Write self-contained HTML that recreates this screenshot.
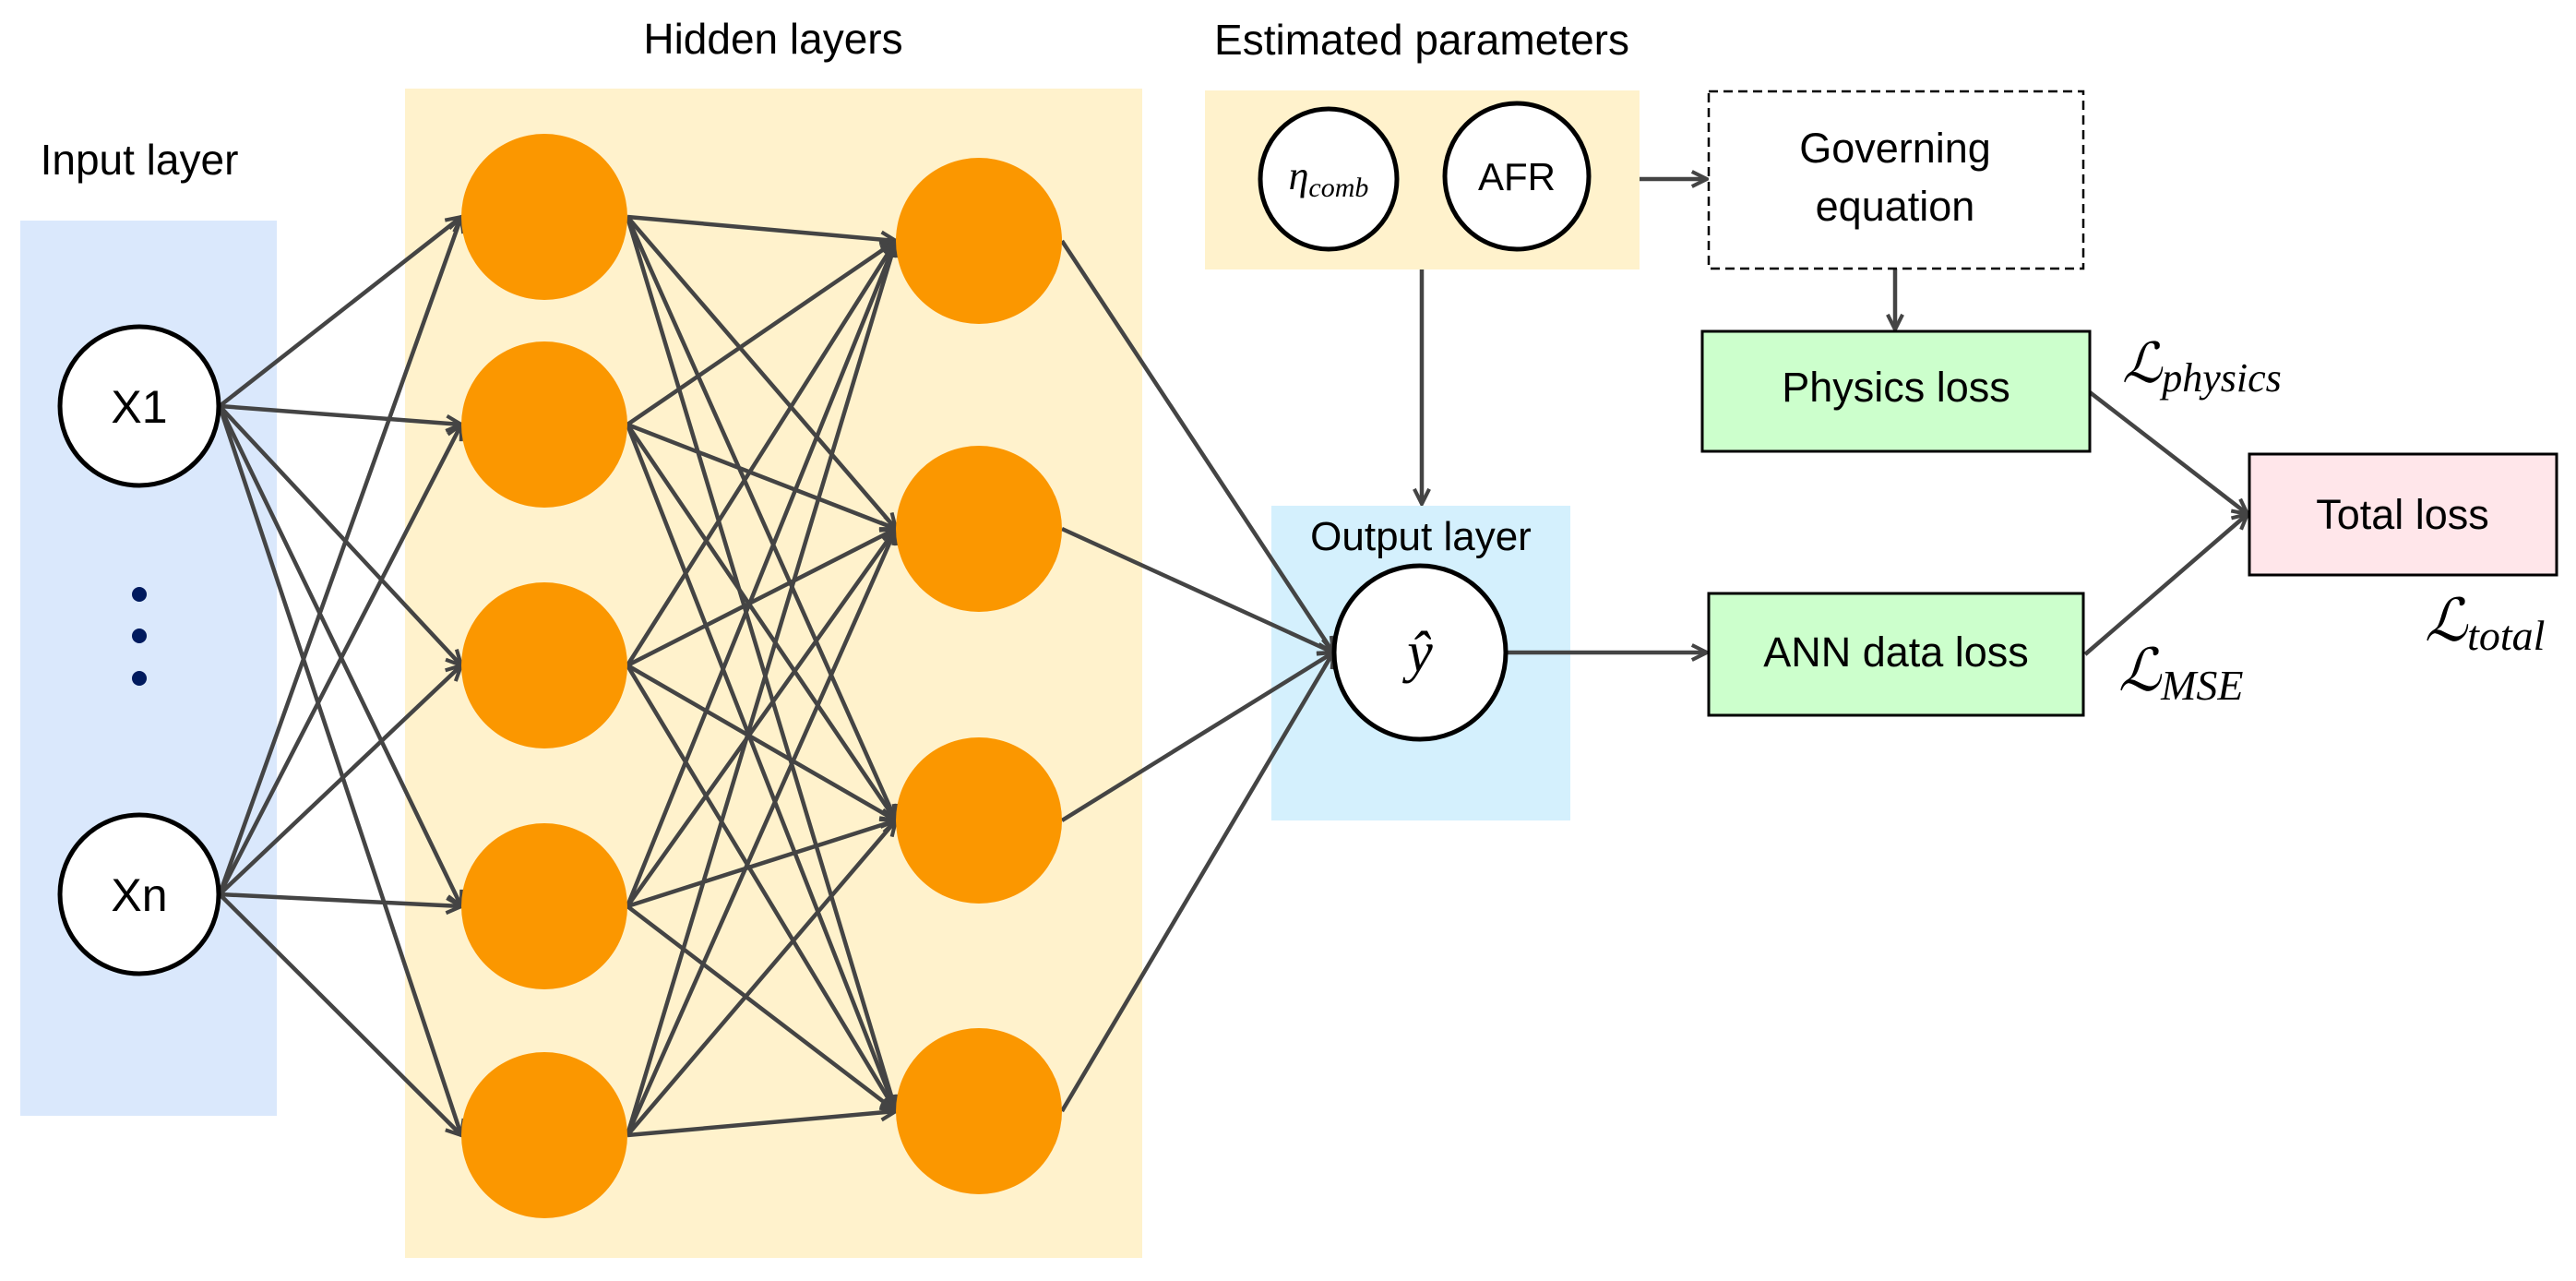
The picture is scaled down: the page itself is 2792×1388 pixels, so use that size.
<!DOCTYPE html>
<html><head><meta charset="utf-8"><style>
html,body{margin:0;padding:0;background:#fff;}
svg{display:block;}
text{font-family:"Liberation Sans",sans-serif;fill:#000;}
.m{font-family:"Liberation Serif","DejaVu Serif",serif;font-style:italic;}
</style></head><body>
<svg width="2792" height="1388" viewBox="0 0 2792 1388" xmlns="http://www.w3.org/2000/svg">
<defs>
<marker id="a" viewBox="0 0 10 10" refX="9" refY="5" markerWidth="4.5" markerHeight="4.5" orient="auto" markerUnits="strokeWidth">
<path d="M1,1 L9,5 L1,9" fill="none" stroke="#444" stroke-width="2"/>
</marker>
</defs>
<rect x="22" y="239" width="278" height="970" fill="#dae8fc"/>
<rect x="439" y="96" width="799" height="1267" fill="#fff2cc"/>
<rect x="1306" y="98" width="471" height="194" fill="#fff2cc"/>
<rect x="1378" y="548" width="324" height="341" fill="#d4f0fd"/>
<text x="151" y="189" font-size="46" text-anchor="middle">Input layer</text>
<text x="838" y="58" font-size="46" text-anchor="middle">Hidden layers</text>
<text x="1541" y="59" font-size="46" text-anchor="middle">Estimated parameters</text>
<text x="1540" y="596" font-size="44" text-anchor="middle">Output layer</text>
<g stroke="#444" stroke-width="4.5" fill="none" marker-end="url(#a)">
<line x1="238" y1="440" x2="500" y2="235"/><line x1="238" y1="440" x2="500" y2="460"/><line x1="238" y1="440" x2="500" y2="721"/><line x1="238" y1="440" x2="500" y2="982"/><line x1="238" y1="440" x2="500" y2="1230"/>
<line x1="238" y1="969" x2="500" y2="235"/><line x1="238" y1="969" x2="500" y2="460"/><line x1="238" y1="969" x2="500" y2="721"/><line x1="238" y1="969" x2="500" y2="982"/><line x1="238" y1="969" x2="500" y2="1230"/>
<line x1="680" y1="235" x2="971" y2="261"/><line x1="680" y1="235" x2="971" y2="573"/><line x1="680" y1="235" x2="971" y2="889"/><line x1="680" y1="235" x2="971" y2="1204"/>
<line x1="680" y1="460" x2="971" y2="261"/><line x1="680" y1="460" x2="971" y2="573"/><line x1="680" y1="460" x2="971" y2="889"/><line x1="680" y1="460" x2="971" y2="1204"/>
<line x1="680" y1="721" x2="971" y2="261"/><line x1="680" y1="721" x2="971" y2="573"/><line x1="680" y1="721" x2="971" y2="889"/><line x1="680" y1="721" x2="971" y2="1204"/>
<line x1="680" y1="982" x2="971" y2="261"/><line x1="680" y1="982" x2="971" y2="573"/><line x1="680" y1="982" x2="971" y2="889"/><line x1="680" y1="982" x2="971" y2="1204"/>
<line x1="680" y1="1230" x2="971" y2="261"/><line x1="680" y1="1230" x2="971" y2="573"/><line x1="680" y1="1230" x2="971" y2="889"/><line x1="680" y1="1230" x2="971" y2="1204"/>
<line x1="1151" y1="261" x2="1445" y2="707"/><line x1="1151" y1="573" x2="1445" y2="707"/><line x1="1151" y1="889" x2="1445" y2="707"/><line x1="1151" y1="1204" x2="1445" y2="707"/>
<line x1="1777" y1="194" x2="1850" y2="194"/>
<line x1="2054" y1="291" x2="2054" y2="357"/>
<line x1="1541" y1="292" x2="1541" y2="546"/>
<line x1="1633" y1="707" x2="1850" y2="707"/>
<line x1="2265" y1="425" x2="2436" y2="557"/>
<line x1="2260" y1="709" x2="2436" y2="557"/>
</g>
<g fill="#fff" stroke="#000" stroke-width="5">
<circle cx="151" cy="440" r="86"/><circle cx="151" cy="969" r="86"/>
<ellipse cx="1440" cy="194" rx="74" ry="76"/><ellipse cx="1644" cy="191" rx="78" ry="79"/>
<ellipse cx="1539" cy="707" rx="93" ry="94"/>
</g>
<g fill="#001a5e"><circle cx="151" cy="644" r="8"/><circle cx="151" cy="689" r="8"/><circle cx="151" cy="735" r="8"/></g>
<g fill="#fb9700">
<circle cx="590" cy="235" r="90"/><circle cx="590" cy="460" r="90"/><circle cx="590" cy="721" r="90"/><circle cx="590" cy="982" r="90"/><circle cx="590" cy="1230" r="90"/>
<circle cx="1061" cy="261" r="90"/><circle cx="1061" cy="573" r="90"/><circle cx="1061" cy="889" r="90"/><circle cx="1061" cy="1204" r="90"/>
</g>
<text x="151" y="458" font-size="50" text-anchor="middle">X1</text>
<text x="151" y="987" font-size="50" text-anchor="middle">Xn</text>
<text x="1440" y="205" font-size="44" text-anchor="middle" class="m">η<tspan font-size="30" dy="8">comb</tspan></text>
<text x="1644" y="206" font-size="42" text-anchor="middle">AFR</text>
<text x="1539" y="727" font-size="62" text-anchor="middle" class="m">ŷ</text>
<rect x="1852" y="99" width="406" height="192" fill="#fff" stroke="#000" stroke-width="2.5" stroke-dasharray="10,6"/>
<text x="2054" y="176" font-size="45" text-anchor="middle">Governing</text>
<text x="2054" y="239" font-size="45" text-anchor="middle">equation</text>
<rect x="1845" y="359" width="420" height="130" fill="#ccffcc" stroke="#000" stroke-width="3"/>
<text x="2055" y="435" font-size="45" text-anchor="middle">Physics loss</text>
<rect x="1852" y="643" width="406" height="132" fill="#ccffcc" stroke="#000" stroke-width="3"/>
<text x="2055" y="722" font-size="45" text-anchor="middle">ANN data loss</text>
<rect x="2438" y="492" width="333" height="131" fill="#ffe6ea" stroke="#000" stroke-width="3"/>
<text x="2604" y="573" font-size="45" text-anchor="middle">Total loss</text>
<text x="2300" y="414" font-size="60" class="m">ℒ<tspan font-size="44" dy="10">physics</tspan></text>
<text x="2296" y="748" font-size="64" class="m">ℒ<tspan font-size="46" dy="10">MSE</tspan></text>
<text x="2628" y="694" font-size="64" class="m">ℒ<tspan font-size="46" dy="10">total</tspan></text>
</svg>
</body></html>
